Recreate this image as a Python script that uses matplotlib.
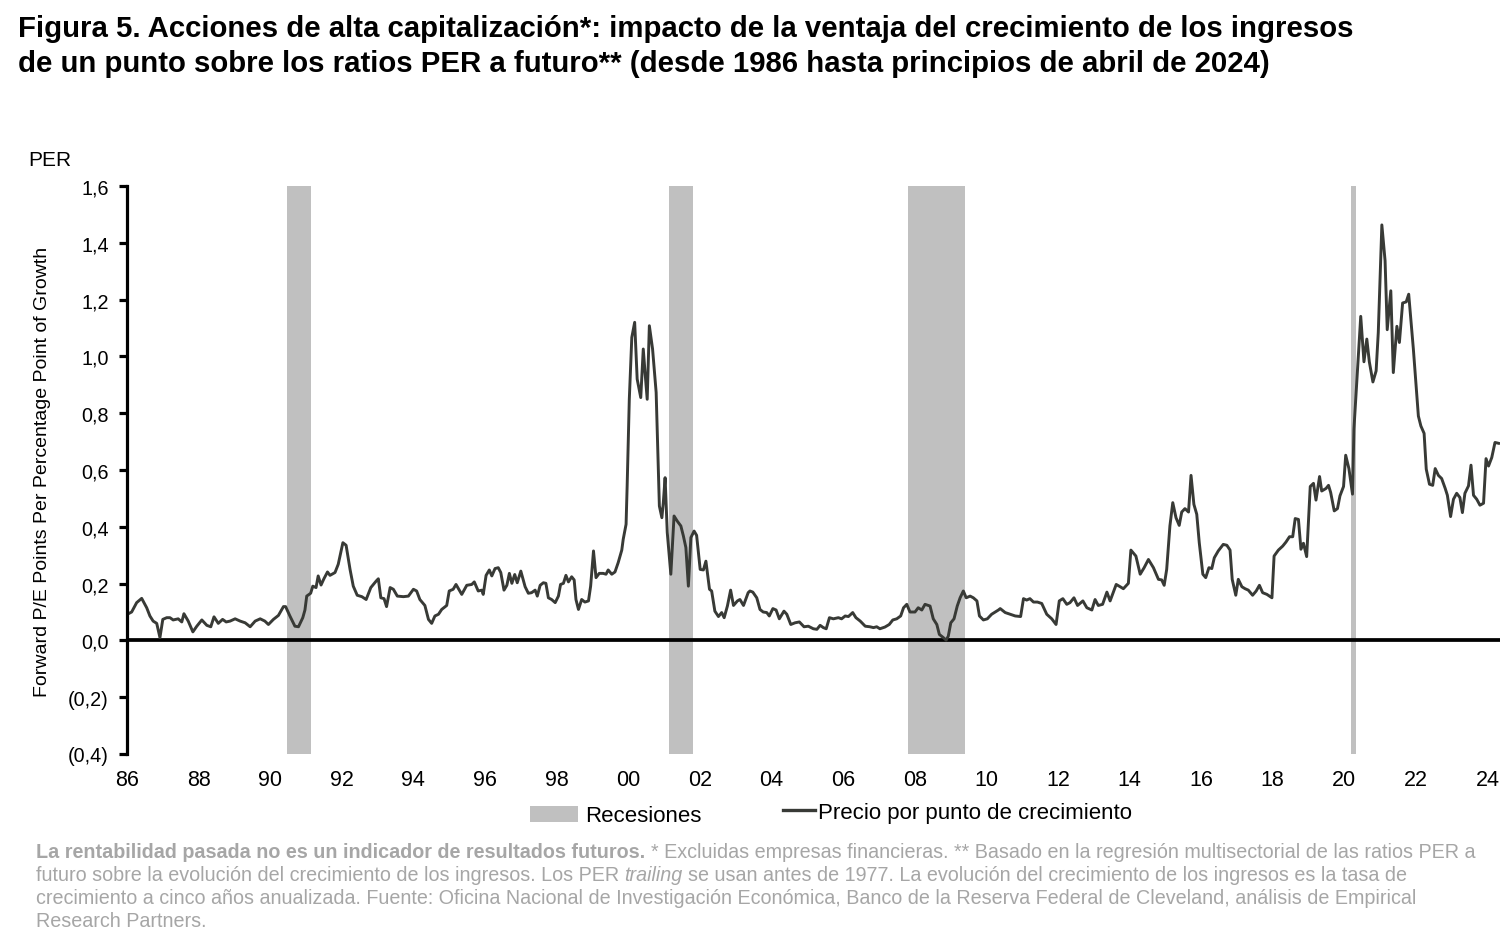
import matplotlib
matplotlib.use("Agg")
import matplotlib.pyplot as plt
from matplotlib.ticker import FuncFormatter, MultipleLocator
from matplotlib.patches import Patch
from matplotlib.lines import Line2D

plt.rcParams['font.family'] = ['Liberation Sans', 'DejaVu Sans']

# Serie: fecha (anio decimal) y PER por punto de crecimiento
years = [
    1986.01, 1986.13, 1986.27, 1986.41, 1986.55, 1986.64, 1986.73, 1986.83, 1986.92, 1987.00,
    1987.11, 1987.20, 1987.29, 1987.43, 1987.53, 1987.59, 1987.71, 1987.84, 1987.95, 1988.09,
    1988.23, 1988.34, 1988.43, 1988.55, 1988.67, 1988.77, 1988.88, 1989.02, 1989.16, 1989.30,
    1989.44, 1989.58, 1989.72, 1989.85, 1989.95, 1990.09, 1990.23, 1990.37, 1990.43, 1990.55,
    1990.69, 1990.79, 1990.91, 1990.97, 1991.02, 1991.13, 1991.19, 1991.28, 1991.34, 1991.42,
    1991.50, 1991.60, 1991.67, 1991.81, 1991.90, 1992.03, 1992.12, 1992.23, 1992.32, 1992.43,
    1992.56, 1992.68, 1992.81, 1992.96, 1993.02, 1993.09, 1993.18, 1993.25, 1993.35, 1993.44,
    1993.55, 1993.72, 1993.86, 1994.00, 1994.09, 1994.18, 1994.32, 1994.42, 1994.51, 1994.60,
    1994.70, 1994.79, 1994.93, 1995.00, 1995.11, 1995.19, 1995.35, 1995.49, 1995.63, 1995.70,
    1995.81, 1995.91, 1995.95, 1996.03, 1996.12, 1996.19, 1996.28, 1996.37, 1996.44, 1996.53,
    1996.61, 1996.68, 1996.75, 1996.83, 1996.90, 1997.00, 1997.12, 1997.21, 1997.30, 1997.40,
    1997.46, 1997.54, 1997.63, 1997.70, 1997.77, 1997.86, 1997.96, 1998.05, 1998.11, 1998.19,
    1998.26, 1998.33, 1998.42, 1998.49, 1998.54, 1998.61, 1998.70, 1998.79, 1998.89, 1998.95,
    1999.03, 1999.10, 1999.19, 1999.30, 1999.38, 1999.44, 1999.54, 1999.63, 1999.72, 1999.82,
    1999.86, 1999.94, 1999.97, 2000.03, 2000.10, 2000.18, 2000.25, 2000.35, 2000.42, 2000.47,
    2000.53, 2000.59, 2000.68, 2000.78, 2000.84, 2000.87, 2000.94, 2000.98, 2001.03, 2001.09,
    2001.19, 2001.28, 2001.37, 2001.47, 2001.54, 2001.61, 2001.68, 2001.75, 2001.84, 2001.91,
    2002.01, 2002.10, 2002.17, 2002.27, 2002.33, 2002.42, 2002.52, 2002.61, 2002.68, 2002.77,
    2002.86, 2002.94, 2003.05, 2003.12, 2003.22, 2003.35, 2003.40, 2003.48, 2003.59, 2003.68,
    2003.77, 2003.87, 2003.94, 2004.04, 2004.13, 2004.22, 2004.35, 2004.43, 2004.54, 2004.66,
    2004.78, 2004.91, 2005.03, 2005.17, 2005.27, 2005.36, 2005.45, 2005.53, 2005.62, 2005.73,
    2005.87, 2005.96, 2006.06, 2006.15, 2006.27, 2006.36, 2006.48, 2006.62, 2006.75, 2006.85,
    2006.94, 2007.03, 2007.17, 2007.29, 2007.39, 2007.50, 2007.61, 2007.69, 2007.78, 2007.87,
    2008.01, 2008.10, 2008.20, 2008.29, 2008.43, 2008.52, 2008.62, 2008.69, 2008.80, 2008.88,
    2008.94, 2009.01, 2009.10, 2009.19, 2009.27, 2009.36, 2009.44, 2009.55, 2009.64, 2009.74,
    2009.81, 2009.92, 2010.03, 2010.15, 2010.34, 2010.39, 2010.53, 2010.67, 2010.81, 2010.96,
    2011.04, 2011.13, 2011.22, 2011.32, 2011.43, 2011.55, 2011.69, 2011.83, 2011.95, 2012.04,
    2012.14, 2012.25, 2012.34, 2012.45, 2012.55, 2012.70, 2012.81, 2012.95, 2013.04, 2013.13,
    2013.25, 2013.37, 2013.46, 2013.63, 2013.74, 2013.83, 2013.97, 2014.04, 2014.18, 2014.30,
    2014.41, 2014.53, 2014.67, 2014.81, 2014.90, 2014.97, 2015.04, 2015.13, 2015.21, 2015.30,
    2015.39, 2015.46, 2015.55, 2015.65, 2015.72, 2015.80, 2015.88, 2015.95, 2016.05, 2016.13,
    2016.22, 2016.30, 2016.37, 2016.48, 2016.62, 2016.72, 2016.81, 2016.87, 2016.97, 2017.04,
    2017.14, 2017.23, 2017.32, 2017.44, 2017.54, 2017.63, 2017.72, 2017.84, 2017.98, 2018.04,
    2018.16, 2018.28, 2018.37, 2018.47, 2018.56, 2018.63, 2018.72, 2018.79, 2018.86, 2018.95,
    2019.05, 2019.14, 2019.21, 2019.31, 2019.37, 2019.49, 2019.56, 2019.62, 2019.72, 2019.81,
    2019.88, 2019.98, 2020.04, 2020.13, 2020.23, 2020.27, 2020.37, 2020.46, 2020.55, 2020.63,
    2020.70, 2020.80, 2020.89, 2020.95, 2021.05, 2021.14, 2021.20, 2021.30, 2021.37, 2021.47,
    2021.54, 2021.63, 2021.73, 2021.80, 2021.93, 2022.07, 2022.14, 2022.23, 2022.29, 2022.38,
    2022.47, 2022.54, 2022.63, 2022.72, 2022.82, 2022.88, 2022.97, 2023.05, 2023.14, 2023.23,
    2023.30, 2023.37, 2023.47, 2023.54, 2023.61, 2023.70, 2023.79, 2023.89, 2023.96, 2024.03,
    2024.12, 2024.21, 2024.31,
]
per = [
    0.092, 0.100, 0.133, 0.148, 0.115, 0.086, 0.068, 0.060, 0.010, 0.074,
    0.080, 0.080, 0.072, 0.076, 0.065, 0.094, 0.068, 0.030, 0.050, 0.072,
    0.053, 0.048, 0.083, 0.060, 0.074, 0.065, 0.068, 0.076, 0.068, 0.062,
    0.048, 0.068, 0.076, 0.068, 0.056, 0.074, 0.088, 0.119, 0.119, 0.086,
    0.050, 0.048, 0.080, 0.107, 0.156, 0.166, 0.191, 0.186, 0.227, 0.195,
    0.217, 0.241, 0.229, 0.239, 0.268, 0.344, 0.335, 0.250, 0.191, 0.159,
    0.154, 0.144, 0.186, 0.209, 0.217, 0.150, 0.147, 0.119, 0.186, 0.180,
    0.156, 0.154, 0.156, 0.180, 0.174, 0.144, 0.123, 0.074, 0.060, 0.086,
    0.092, 0.109, 0.123, 0.174, 0.180, 0.197, 0.162, 0.194, 0.197, 0.206,
    0.174, 0.177, 0.162, 0.229, 0.248, 0.227, 0.253, 0.256, 0.239, 0.177,
    0.194, 0.236, 0.201, 0.232, 0.203, 0.244, 0.189, 0.166, 0.168, 0.177,
    0.156, 0.194, 0.203, 0.201, 0.150, 0.144, 0.133, 0.156, 0.197, 0.201,
    0.229, 0.206, 0.224, 0.213, 0.144, 0.109, 0.144, 0.135, 0.139, 0.191,
    0.315, 0.221, 0.236, 0.236, 0.233, 0.248, 0.233, 0.241, 0.274, 0.318,
    0.356, 0.409, 0.544, 0.849, 1.067, 1.120, 0.920, 0.855, 1.026, 0.943,
    0.849, 1.108, 1.026, 0.873, 0.614, 0.473, 0.432, 0.485, 0.573, 0.380,
    0.233, 0.438, 0.420, 0.403, 0.368, 0.327, 0.191, 0.362, 0.385, 0.370,
    0.250, 0.248, 0.279, 0.180, 0.174, 0.103, 0.084, 0.098, 0.080, 0.121,
    0.177, 0.123, 0.139, 0.144, 0.123, 0.168, 0.174, 0.170, 0.150, 0.109,
    0.100, 0.098, 0.086, 0.112, 0.107, 0.076, 0.103, 0.092, 0.056, 0.062,
    0.065, 0.048, 0.050, 0.041, 0.039, 0.053, 0.045, 0.041, 0.080, 0.076,
    0.080, 0.076, 0.086, 0.084, 0.098, 0.080, 0.068, 0.050, 0.048, 0.045,
    0.048, 0.041, 0.047, 0.056, 0.072, 0.076, 0.086, 0.115, 0.127, 0.100,
    0.100, 0.115, 0.107, 0.127, 0.121, 0.076, 0.056, 0.021, 0.010, 0.001,
    0.015, 0.062, 0.076, 0.121, 0.150, 0.174, 0.150, 0.156, 0.150, 0.139,
    0.086, 0.072, 0.076, 0.092, 0.107, 0.112, 0.098, 0.092, 0.086, 0.084,
    0.147, 0.142, 0.147, 0.135, 0.135, 0.130, 0.092, 0.076, 0.056, 0.139,
    0.147, 0.127, 0.133, 0.150, 0.123, 0.139, 0.115, 0.107, 0.144, 0.123,
    0.127, 0.170, 0.139, 0.197, 0.189, 0.182, 0.201, 0.318, 0.297, 0.233,
    0.256, 0.285, 0.256, 0.215, 0.213, 0.194, 0.250, 0.403, 0.485, 0.432,
    0.405, 0.452, 0.464, 0.452, 0.581, 0.479, 0.444, 0.344, 0.233, 0.221,
    0.256, 0.253, 0.291, 0.315, 0.338, 0.335, 0.318, 0.215, 0.159, 0.215,
    0.189, 0.182, 0.177, 0.159, 0.174, 0.194, 0.168, 0.162, 0.150, 0.297,
    0.318, 0.332, 0.346, 0.365, 0.365, 0.429, 0.426, 0.321, 0.342, 0.295,
    0.542, 0.553, 0.494, 0.577, 0.526, 0.535, 0.546, 0.521, 0.456, 0.464,
    0.509, 0.542, 0.652, 0.605, 0.515, 0.744, 0.953, 1.141, 0.981, 1.061,
    0.981, 0.910, 0.949, 1.084, 1.463, 1.337, 1.094, 1.231, 0.943, 1.106,
    1.049, 1.188, 1.192, 1.219, 1.026, 0.790, 0.755, 0.729, 0.603, 0.550,
    0.546, 0.605, 0.581, 0.570, 0.535, 0.511, 0.436, 0.497, 0.518, 0.503,
    0.450, 0.518, 0.544, 0.617, 0.511, 0.497, 0.476, 0.483, 0.640, 0.614,
    0.644, 0.697, 0.694,
]

# Recesiones (NBER)
rec_start = [1990.47, 2001.14, 2007.82, 2020.19]
rec_end = [1991.14, 2001.81, 2009.41, 2020.33]

x_ticks = list(range(1986, 2025, 2))
x_labels = [f"{y % 100:02d}" for y in x_ticks]

title_1 = "Figura 5. Acciones de alta capitalización*: impacto de la ventaja del crecimiento de los ingresos"
title_2 = "de un punto sobre los ratios PER a futuro** (desde 1986 hasta principios de abril de 2024)"
ylabel = "Forward P/E Points Per Percentage Point of Growth"
legend_labels = ["Recesiones", "Precio por punto de crecimiento"]

# notas al pie: (texto, peso, estilo) por linea
foot_lines = [
    [("La rentabilidad pasada no es un indicador de resultados futuros.", "bold", "normal"),
     ("* Excluidas empresas financieras. ** Basado en la regresión multisectorial de las ratios PER a", "normal", "normal")],
    [("futuro sobre la evolución del crecimiento de los ingresos. Los PER", "normal", "normal"),
     ("trailing", "normal", "italic"),
     ("se usan antes de 1977. La evolución del crecimiento de los ingresos es la tasa de", "normal", "normal")],
    [("crecimiento a cinco años anualizada. Fuente: Oficina Nacional de Investigación Económica, Banco de la Reserva Federal de Cleveland, análisis de Empirical", "normal", "normal")],
    [("Research Partners.", "normal", "normal")],
]

line_color = "#383a36"
rec_color = "#c0c0c0"
foot_color = "#a6a6a6"

W, H = 1500, 945
fig = plt.figure(figsize=(15, 9.45), dpi=100)
ax = fig.add_axes([127 / W, 1 - 755 / H, 1 - 127 / W, (755 - 187) / H])

for s, e in zip(rec_start, rec_end):
    ax.axvspan(s, e, color=rec_color, lw=0, zorder=1)
ax.axhline(0, color="black", lw=2.7, zorder=2)
ax.plot(years, per, color=line_color, lw=2.1, zorder=3)

ax.set_xlim(1986, 2024.35)
ax.set_ylim(-0.4, 1.6)

for side in ["top", "right", "bottom"]:
    ax.spines[side].set_visible(False)
ax.spines["left"].set_linewidth(2.3)
ax.spines["left"].set_zorder(4)

def fmt(v, pos):
    s = f"{abs(v):.1f}".replace(".", ",")
    return f"({s})" if v < -1e-9 else s

ax.yaxis.set_major_locator(MultipleLocator(0.2))
ax.yaxis.set_major_formatter(FuncFormatter(fmt))
ax.tick_params(axis="y", length=6, width=2.3, pad=7, labelsize=14.2)
ax.set_xticks(x_ticks)
ax.set_xticklabels(x_labels)
ax.tick_params(axis="x", length=0, pad=11, labelsize=15.5)

# titulo
fig.text(18 / W, 1 - 37 / H, title_1, fontsize=21.2, weight="bold", va="baseline", ha="left")
fig.text(18 / W, 1 - 72 / H, title_2, fontsize=21.2, weight="bold", va="baseline", ha="left")

fig.text(28 / W, 1 - 160 / H, "PER", fontsize=15, va="center", ha="left")
fig.text(43 / W, 1 - 472 / H, ylabel, fontsize=14, rotation=90, va="center", ha="center")

# leyenda: dos entradas con longitudes de simbolo distintas
leg1 = fig.legend([Patch(facecolor=rec_color, edgecolor="none")], legend_labels[:1],
                  loc="center left", bbox_to_anchor=(530 / W, 1 - 817 / H), frameon=False,
                  fontsize=16, handlelength=2.16, handletextpad=0.32, borderpad=0, borderaxespad=0)
leg2 = fig.legend([Line2D([], [], color=line_color, lw=2.4)], legend_labels[1:],
                  loc="center left", bbox_to_anchor=(783 / W, 1 - 813 / H), frameon=False,
                  fontsize=16, handlelength=1.44, handletextpad=0.14, borderpad=0, borderaxespad=0)

# notas al pie con estilos mezclados
renderer = fig.canvas.get_renderer()
fs = 14.2
gap = fs * 100 / 72 * 0.278
for i, pieces in enumerate(foot_lines):
    x = 36
    y = 1 - (858 + 23 * i) / H
    for txt, weight, style in pieces:
        t = fig.text(x / W, y, txt, fontsize=fs, color=foot_color, weight=weight, style=style,
                     va="baseline", ha="left")
        bb = t.get_window_extent(renderer)
        x = bb.x1 + gap

fig.savefig("out.png", dpi=100)
